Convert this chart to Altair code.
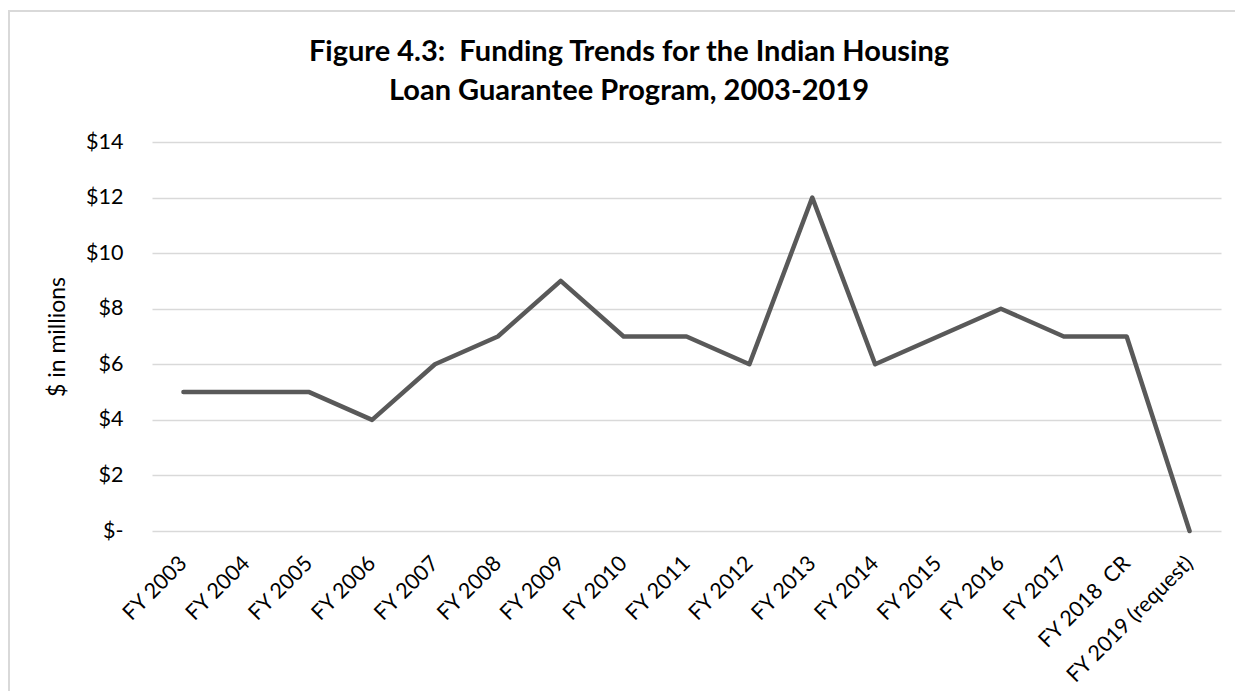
import altair as alt
import pandas as pd

categories = ["FY 2003", "FY 2004", "FY 2005", "FY 2006", "FY 2007", "FY 2008",
              "FY 2009", "FY 2010", "FY 2011", "FY 2012", "FY 2013", "FY 2014",
              "FY 2015", "FY 2016", "FY 2017", "FY 2018\u00a0 CR", "FY 2019 (request)"]
values = [5, 5, 5, 4, 6, 7, 9, 7, 7, 6, 12, 6, 7, 8, 7, 7, 0]
y_ticks = [0, 2, 4, 6, 8, 10, 12, 14]
title_lines = ["Figure 4.3:\u00a0 Funding Trends for the Indian Housing",
               "Loan Guarantee Program, 2003-2019"]

df = pd.DataFrame({"cat": categories, "val": values})

W, H = 1069, 389
FONT = "Lato"

line = alt.Chart(df).mark_line(
    color="#595959", strokeWidth=4.5, strokeCap="round", strokeJoin="round"
).encode(
    x=alt.X("cat:N", sort=categories, title=None,
            scale=alt.Scale(type="point", padding=0.5),
            axis=alt.Axis(labelAngle=-45, labelAlign="right", labelBaseline="middle",
                          labelPadding=29, ticks=False, domain=False, grid=False,
                          labelFontSize=21.5, labelColor="#000000", labelFont=FONT)),
    y=alt.Y("val:Q", title="$ in millions",
            scale=alt.Scale(domain=[0, 14], nice=False),
            axis=alt.Axis(values=y_ticks,
                          labelExpr="datum.value == 0 ? '$-' : '$' + datum.value",
                          labelPadding=29, ticks=False, domain=False,
                          grid=True, gridColor="#d9d9d9", gridWidth=1.5,
                          labelFontSize=21.5, labelColor="#000000", labelFont=FONT,
                          titleFontSize=23, titleFontWeight="normal", titleColor="#000000",
                          titleFont=FONT, titleX=-88, titleY=H / 2,
                          titleBaseline="alphabetic")),
)

border = alt.Chart(alt.Data(values=[{"a": 1}])).mark_rect(
    fill="transparent", stroke="#d9d9d9", strokeWidth=2
).encode(
    x=alt.value(-143), x2=alt.value(W + 60),
    y=alt.value(-131), y2=alt.value(H + 220),
)

title = alt.Chart(alt.Data(values=[{"a": 1}])).mark_text(
    font=FONT, fontSize=29, fontWeight="bold", color="#000000",
    align="center", baseline="alphabetic", lineHeight=39
).encode(
    x=alt.value(477), y=alt.value(-81), text=alt.value(title_lines),
)

chart = alt.layer(border, title, line).properties(
    width=W, height=H,
    autosize=alt.AutoSizeParams(type="none"),
    padding={"left": 144, "top": 134, "right": 14, "bottom": 160},
).configure(
    font=FONT, view=alt.ViewConfig(strokeWidth=0, stroke="transparent")
)

chart.save("out.html", embed_options={"renderer": "svg", "actions": False})
